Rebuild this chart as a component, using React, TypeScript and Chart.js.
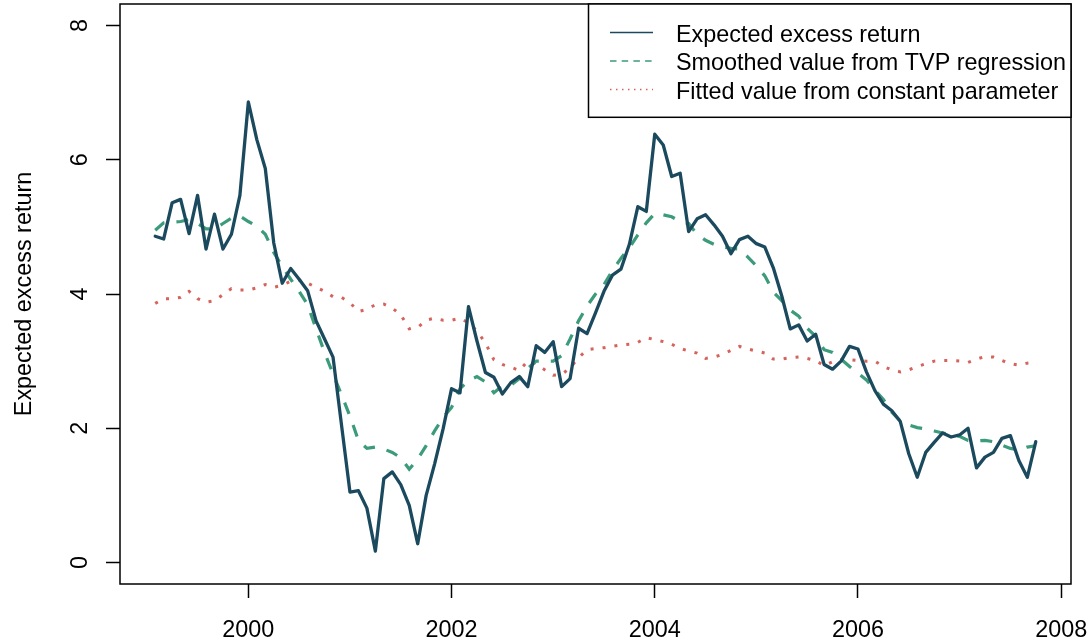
import React, { useEffect, useRef } from "react";
import { Chart, registerables } from "chart.js";

Chart.register(...registerables);

// Monthly series, February 1999 to October 2007
const START_YEAR = 1999;
const START_MONTH = 2;

const expectedExcess = [
  4.86, 4.82, 5.36, 5.41, 4.90, 5.47, 4.67, 5.19, 4.67, 4.89, 5.47,
  6.86, 6.30, 5.87, 4.76, 4.16, 4.38, 4.22, 4.05, 3.60, 3.33, 3.06, 2.05,
  1.05, 1.07, 0.81, 0.17, 1.25, 1.35, 1.16, 0.85, 0.28, 1.00, 1.47, 1.99,
  2.59, 2.53, 3.81, 3.30, 2.83, 2.76, 2.51, 2.68, 2.77, 2.62, 3.23, 3.13,
  3.29, 2.62, 2.74, 3.49, 3.41, 3.72, 4.04, 4.28, 4.37, 4.74, 5.30, 5.23,
  6.38, 6.22, 5.75, 5.80, 4.93, 5.12, 5.18, 5.03, 4.86, 4.60, 4.81, 4.86,
  4.75, 4.70, 4.39, 3.97, 3.48, 3.54, 3.30, 3.40, 2.95, 2.88, 3.00, 3.22,
  3.18, 2.84, 2.56, 2.36, 2.26, 2.10, 1.62, 1.27, 1.64, 1.79, 1.93, 1.87,
  1.90, 2.00, 1.41, 1.57, 1.64, 1.85, 1.89, 1.52, 1.27, 1.80,
];

const smoothedTVP = [
  4.95, 5.06, 5.07, 5.08, 5.11, 5.05, 4.97, 4.97, 5.05, 5.13, 5.16,
  5.08, 5.01, 4.89, 4.62, 4.41, 4.22, 4.04, 3.84, 3.48, 3.13, 2.81, 2.50,
  2.18, 1.82, 1.70, 1.72, 1.69, 1.64, 1.56, 1.39, 1.54, 1.74, 1.96, 2.16,
  2.31, 2.59, 2.71, 2.77, 2.69, 2.53, 2.63, 2.64, 2.74, 2.89, 3.00, 3.00,
  3.00, 3.08, 3.33, 3.60, 3.82, 4.00, 4.14, 4.35, 4.53, 4.69, 4.88, 5.06,
  5.20, 5.18, 5.15, 5.08, 5.05, 4.89, 4.80, 4.74, 4.70, 4.68, 4.67, 4.55,
  4.42, 4.27, 4.03, 3.90, 3.76, 3.67, 3.49, 3.37, 3.17, 3.13, 3.03, 2.92,
  2.82, 2.72, 2.57, 2.43, 2.24, 2.11, 2.05, 2.01, 1.99, 1.96, 1.93, 1.90,
  1.88, 1.82, 1.81, 1.82, 1.80, 1.75, 1.70, 1.68, 1.72, 1.74,
];

const fittedConstant = [
  3.86, 3.93, 3.93, 3.95, 4.04, 3.93, 3.88, 3.90, 3.99, 4.08, 4.06,
  4.06, 4.09, 4.14, 4.10, 4.13, 4.19, 4.21, 4.16, 4.10, 4.04, 3.96, 3.95,
  3.87, 3.74, 3.77, 3.84, 3.85, 3.79, 3.69, 3.48, 3.50, 3.61, 3.64, 3.61,
  3.61, 3.64, 3.57, 3.45, 3.27, 3.02, 2.95, 2.91, 2.86, 3.00, 2.96, 2.87,
  2.79, 2.80, 2.90, 3.05, 3.17, 3.19, 3.20, 3.22, 3.24, 3.25, 3.28, 3.35,
  3.32, 3.29, 3.25, 3.19, 3.15, 3.12, 3.04, 3.06, 3.10, 3.16, 3.22, 3.18,
  3.15, 3.12, 3.03, 3.03, 3.05, 3.06, 3.04, 3.01, 2.93, 2.99, 3.02, 3.02,
  3.01, 3.00, 3.00, 2.92, 2.87, 2.84, 2.87, 2.92, 2.96, 3.00, 3.01, 3.01,
  3.00, 2.98, 3.03, 3.07, 3.06, 3.01, 2.96, 2.94, 2.97, 2.98,
];

const X_TICKS = [2000, 2002, 2004, 2006, 2008];
const Y_TICKS = [0, 2, 4, 6, 8];
const Y_LIMITS = [0, 8];
const Y_TITLE = "Expected excess return";

const LEGEND_LABELS = [
  "Expected excess return",
  "Smoothed value from TVP regression",
  "Fitted value from constant parameter",
];

const COLORS = ["#1b4a5e", "#3b9b7b", "#d6625c"];
const FONT = '"Liberation Sans", Arial, Helvetica, sans-serif';
const FONT_SIZE = 23.4;

const times = expectedExcess.map(
  (_, i) => START_YEAR + (START_MONTH - 1 + i) / 12
);
const toPoints = (vals: number[]) => vals.map((v, i) => ({ x: times[i], y: v }));

// base-graphics style 4% range extension
const xSpan = times[times.length - 1] - times[0];
const X_MIN = times[0] - 0.04 * xSpan;
const X_MAX = times[times.length - 1] + 0.04 * xSpan;
const ySpan = Y_LIMITS[1] - Y_LIMITS[0];
const Y_MIN = Y_LIMITS[0] - 0.04 * ySpan;
const Y_MAX = Y_LIMITS[1] + 0.04 * ySpan;

const frameAndText = {
  id: "frameAndText",
  afterDraw(chart: any) {
    const { ctx, chartArea: a, scales } = chart;
    const xs = scales.x;
    const ys = scales.y;
    ctx.save();

    // plot box
    ctx.strokeStyle = "#000";
    ctx.lineWidth = 1.5;
    ctx.setLineDash([]);
    ctx.strokeRect(a.left, a.top, a.right - a.left, a.bottom - a.top);

    ctx.font = `${FONT_SIZE}px ${FONT}`;
    ctx.fillStyle = "#000";
    ctx.textAlign = "center";
    ctx.textBaseline = "alphabetic";

    // x tick labels
    for (const t of X_TICKS) {
      ctx.fillText(String(t), xs.getPixelForValue(t), a.bottom + 52.5);
    }
    // y tick labels, rotated
    for (const t of Y_TICKS) {
      ctx.save();
      ctx.translate(a.left - 33, ys.getPixelForValue(t));
      ctx.rotate(-Math.PI / 2);
      ctx.fillText(String(t), 0, 0);
      ctx.restore();
    }
    // y axis title
    ctx.save();
    ctx.translate(30.5, (a.top + a.bottom) / 2);
    ctx.rotate(-Math.PI / 2);
    ctx.fillText(Y_TITLE, 0, 0);
    ctx.restore();

    // legend, top right
    const boxLeft = a.right - 482.5;
    const boxTop = a.top;
    const boxBottom = a.top + 113.3;
    ctx.fillStyle = "#fff";
    ctx.fillRect(boxLeft, boxTop, a.right - boxLeft, boxBottom - boxTop);
    ctx.strokeStyle = "#000";
    ctx.lineWidth = 1.5;
    ctx.strokeRect(boxLeft, boxTop, a.right - boxLeft, boxBottom - boxTop);

    const dashes = [[], [6.5, 5.2], [1.5, 4.5]];
    LEGEND_LABELS.forEach((label, i) => {
      const rowY = boxTop + 28.5 + i * 28.5;
      ctx.beginPath();
      ctx.strokeStyle = COLORS[i];
      ctx.lineWidth = 1.5;
      ctx.lineCap = "butt";
      ctx.setLineDash(dashes[i]);
      ctx.moveTo(boxLeft + 21.5, rowY);
      ctx.lineTo(boxLeft + 64.5, rowY);
      ctx.stroke();
      ctx.setLineDash([]);
      ctx.fillStyle = "#000";
      ctx.textAlign = "left";
      ctx.fillText(label, boxLeft + 87.5, rowY + 9.4);
    });

    ctx.restore();
  },
};

export default function App() {
  const canvasRef = useRef<HTMLCanvasElement | null>(null);

  useEffect(() => {
    document.body.style.margin = "0";
    const canvas = canvasRef.current;
    if (!canvas) return;

    const chart = new Chart(canvas, {
      type: "line",
      data: {
        datasets: [
          {
            label: LEGEND_LABELS[0],
            data: toPoints(expectedExcess),
            borderColor: COLORS[0],
            borderWidth: 3.3,
            borderJoinStyle: "round",
            borderCapStyle: "round",
            pointRadius: 0,
            tension: 0,
          },
          {
            label: LEGEND_LABELS[1],
            data: toPoints(smoothedTVP),
            borderColor: COLORS[1],
            borderWidth: 3.2,
            borderDash: [12, 12],
            borderCapStyle: "butt",
            pointRadius: 0,
            tension: 0,
          },
          {
            label: LEGEND_LABELS[2],
            data: toPoints(fittedConstant),
            borderColor: COLORS[2],
            borderWidth: 3,
            borderDash: [3, 9],
            borderCapStyle: "butt",
            pointRadius: 0,
            tension: 0,
          },
        ],
      },
      options: {
        responsive: false,
        animation: false,
        events: [],
        layout: {
          autoPadding: false,
          padding: { top: 4, right: 20, left: 0, bottom: 0 },
        },
        plugins: {
          legend: { display: false },
          title: { display: false },
          tooltip: { enabled: false },
        },
        scales: {
          x: {
            type: "linear",
            position: "bottom",
            min: X_MIN,
            max: X_MAX,
            bounds: "data",
            afterBuildTicks: (scale: any) => {
              scale.ticks = X_TICKS.map((v) => ({ value: v }));
            },
            afterFit: (scale: any) => {
              scale.height = 58;
            },
            ticks: { display: false },
            grid: {
              drawOnChartArea: false,
              drawTicks: true,
              tickLength: 14,
              tickWidth: 1.5,
              tickColor: "#000",
              color: "#000",
            },
            border: { display: false },
          },
          y: {
            type: "linear",
            position: "left",
            min: Y_MIN,
            max: Y_MAX,
            bounds: "data",
            afterBuildTicks: (scale: any) => {
              scale.ticks = Y_TICKS.map((v) => ({ value: v }));
            },
            afterFit: (scale: any) => {
              scale.width = 120;
            },
            ticks: { display: false },
            grid: {
              drawOnChartArea: false,
              drawTicks: true,
              tickLength: 14,
              tickWidth: 1.5,
              tickColor: "#000",
              color: "#000",
            },
            border: { display: false },
          },
        },
      },
      plugins: [frameAndText],
    });

    return () => chart.destroy();
  }, []);

  return (
    <div style={{ width: 1091, height: 642, background: "#fff" }}>
      <canvas ref={canvasRef} width={1091} height={642} />
    </div>
  );
}
